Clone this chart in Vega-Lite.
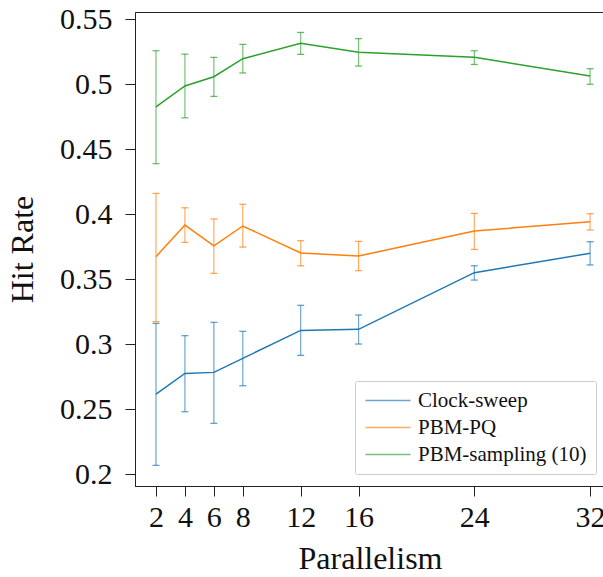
{
  "$schema": "https://vega.github.io/schema/vega-lite/v6.json",
  "width": 470,
  "height": 474,
  "autosize": "none",
  "padding": {"left": 135, "top": 12, "right": 0, "bottom": 91},
  "background": "white",
  "config": {
    "font": "Liberation Serif",
    "view": {"stroke": "#222", "strokeWidth": 1},
    "axis": {
      "grid": false,
      "domainColor": "#222",
      "tickColor": "#222",
      "labelColor": "#111",
      "titleColor": "#111",
      "labelFont": "Liberation Serif",
      "titleFont": "Liberation Serif",
      "titleFontWeight": "normal",
      "labelFontSize": 30,
      "titleFontSize": 32,
      "tickSize": 10
    }
  },
  "data": {
    "values": [
      {"series": "Clock-sweep", "x": 2, "y": 0.2615, "lo": 0.2067, "hi": 0.3159},
      {"series": "Clock-sweep", "x": 4, "y": 0.2774, "lo": 0.2479, "hi": 0.3064},
      {"series": "Clock-sweep", "x": 6, "y": 0.2782, "lo": 0.2390, "hi": 0.3167},
      {"series": "Clock-sweep", "x": 8, "y": 0.2890, "lo": 0.2679, "hi": 0.3098},
      {"series": "Clock-sweep", "x": 12, "y": 0.3105, "lo": 0.2913, "hi": 0.3298},
      {"series": "Clock-sweep", "x": 16, "y": 0.3113, "lo": 0.3000, "hi": 0.3223},
      {"series": "Clock-sweep", "x": 24, "y": 0.3549, "lo": 0.3492, "hi": 0.3602},
      {"series": "Clock-sweep", "x": 32, "y": 0.3698, "lo": 0.3608, "hi": 0.3787},
      {"series": "PBM-PQ", "x": 2, "y": 0.3672, "lo": 0.3172, "hi": 0.4159},
      {"series": "PBM-PQ", "x": 4, "y": 0.3915, "lo": 0.3782, "hi": 0.4048},
      {"series": "PBM-PQ", "x": 6, "y": 0.3756, "lo": 0.3544, "hi": 0.3962},
      {"series": "PBM-PQ", "x": 8, "y": 0.3908, "lo": 0.3746, "hi": 0.4075},
      {"series": "PBM-PQ", "x": 12, "y": 0.3700, "lo": 0.3602, "hi": 0.3795},
      {"series": "PBM-PQ", "x": 16, "y": 0.3677, "lo": 0.3564, "hi": 0.3790},
      {"series": "PBM-PQ", "x": 24, "y": 0.3869, "lo": 0.3728, "hi": 0.4005},
      {"series": "PBM-PQ", "x": 32, "y": 0.3941, "lo": 0.3877, "hi": 0.4002},
      {"series": "PBM-sampling (10)", "x": 2, "y": 0.4825, "lo": 0.4387, "hi": 0.5256},
      {"series": "PBM-sampling (10)", "x": 4, "y": 0.4985, "lo": 0.4740, "hi": 0.5230},
      {"series": "PBM-sampling (10)", "x": 6, "y": 0.5056, "lo": 0.4905, "hi": 0.5205},
      {"series": "PBM-sampling (10)", "x": 8, "y": 0.5195, "lo": 0.5085, "hi": 0.5305},
      {"series": "PBM-sampling (10)", "x": 12, "y": 0.5313, "lo": 0.5228, "hi": 0.5397},
      {"series": "PBM-sampling (10)", "x": 16, "y": 0.5244, "lo": 0.5138, "hi": 0.5349},
      {"series": "PBM-sampling (10)", "x": 24, "y": 0.5205, "lo": 0.5151, "hi": 0.5256},
      {"series": "PBM-sampling (10)", "x": 32, "y": 0.5062, "lo": 0.4998, "hi": 0.5118}
    ]
  },
  "encoding": {
    "x": {
      "field": "x",
      "type": "quantitative",
      "scale": {"domain": [0.55, 33.03], "nice": false, "zero": false},
      "axis": {
        "values": [2, 4, 6, 8, 12, 16, 24, 32],
        "title": "Parallelism",
        "labelPadding": 6,
        "titlePadding": 11,
        "domain": true
      }
    },
    "color": {
      "field": "series",
      "type": "nominal",
      "scale": {
        "domain": ["Clock-sweep", "PBM-PQ", "PBM-sampling (10)"],
        "range": ["#1f77b4", "#ff7f0e", "#2ca02c"]
      },
      "legend": {
        "title": null,
        "orient": "none",
        "legendX": 220,
        "legendY": 369,
        "symbolType": "M-1,0H4",
        "symbolSize": 324,
        "symbolStrokeWidth": 1.5,
        "symbolFillColor": "transparent",
        "labelFont": "Liberation Serif",
        "labelFontSize": 21,
        "labelLimit": 400,
        "labelColor": "#111",
        "rowPadding": 5,
        "padding": 9,
        "strokeColor": "#cccccc",
        "fillColor": "white",
        "cornerRadius": 2,
        "labelOffset": 33
      }
    }
  },
  "layer": [
    {
      "mark": {"type": "rule", "strokeWidth": 1.2, "opacity": 0.65},
      "encoding": {
        "y": {"field": "lo", "type": "quantitative"},
        "y2": {"field": "hi"}
      }
    },
    {
      "mark": {"type": "tick", "orient": "horizontal", "size": 7, "thickness": 1.2, "opacity": 0.75},
      "encoding": {"y": {"field": "lo", "type": "quantitative"}}
    },
    {
      "mark": {"type": "tick", "orient": "horizontal", "size": 7, "thickness": 1.2, "opacity": 0.75},
      "encoding": {"y": {"field": "hi", "type": "quantitative"}}
    },
    {
      "mark": {"type": "line", "strokeWidth": 1.5},
      "encoding": {
        "y": {
          "field": "y",
          "type": "quantitative",
          "scale": {"domain": [0.1908, 0.5554], "nice": false, "zero": false},
          "axis": {
            "values": [0.2, 0.25, 0.3, 0.35, 0.4, 0.45, 0.5, 0.55],
            "format": ".2~f",
            "title": "Hit Rate",
            "labelPadding": 13,
            "titlePadding": 20
          }
        }
      }
    }
  ]
}
